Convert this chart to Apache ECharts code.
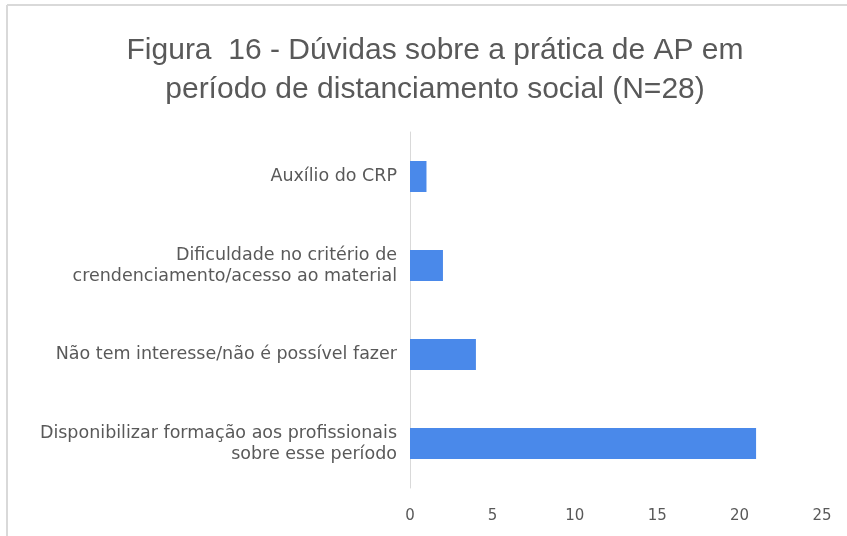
<!DOCTYPE html>
<html>
<head>
<meta charset="utf-8">
<script src="https://cdn.jsdelivr.net/npm/echarts@6/dist/echarts.min.js"></script>
<style>
  html, body { margin: 0; padding: 0; background: #fff; }
  #chart { width: 847px; height: 536px; }
</style>
</head>
<body>
<div id="chart"></div>
<script>
// categories bottom-to-top (ECharts category y axis starts at the bottom)
const categories = [
  'Disponibilizar formação aos profissionais\nsobre esse período',
  'Não tem interesse/não é possível fazer',
  'Dificuldade no critério de\ncrendenciamento/acesso ao material',
  'Auxílio do CRP'
]
const values = [21, 4, 2, 1]
const xTicks = { min: 0, max: 25, interval: 5 }

const chart = echarts.init(document.getElementById('chart'))

const option = {
  backgroundColor: '#fff',
  animation: false,
  title: {
    text: 'Figura  16 - Dúvidas sobre a prática de AP em\nperíodo de distanciamento social (N=28)',
    left: 430,
    top: 26,
    textAlign: 'center',
    textStyle: {
      fontFamily: 'Liberation Sans, Arial, sans-serif',
      fontSize: 30,
      fontWeight: 'normal',
      color: '#595959',
      lineHeight: 39
    }
  },
  graphic: [
    { type: 'line', shape: { x1: 7, y1: 5, x2: 847, y2: 5 }, style: { stroke: '#d9d9d9', lineWidth: 2 } },
    { type: 'line', shape: { x1: 7, y1: 5, x2: 7, y2: 536 }, style: { stroke: '#d9d9d9', lineWidth: 2 } }
  ],
  grid: {
    left: 410,
    right: 25,
    top: 132,
    bottom: 48
  },
  xAxis: {
    type: 'value',
    min: xTicks.min,
    max: xTicks.max,
    interval: xTicks.interval,
    axisLine: { show: false },
    axisTick: { show: false },
    splitLine: { show: false },
    axisLabel: {
      margin: 21,
      fontFamily: 'DejaVu Sans, sans-serif',
      fontSize: 15,
      color: '#595959'
    }
  },
  yAxis: {
    type: 'category',
    data: categories,
    axisLine: { show: true, lineStyle: { color: '#d9d9d9', width: 1 } },
    axisTick: { show: false },
    axisLabel: {
      margin: 13,
      fontFamily: 'DejaVu Sans, sans-serif',
      fontSize: 17.5,
      lineHeight: 21,
      color: '#595959',
      align: 'right'
    }
  },
  series: [
    {
      type: 'bar',
      data: values,
      barWidth: 31,
      itemStyle: { color: '#4a89ea' }
    }
  ]
}

chart.setOption(option)
</script>
</body>
</html>
